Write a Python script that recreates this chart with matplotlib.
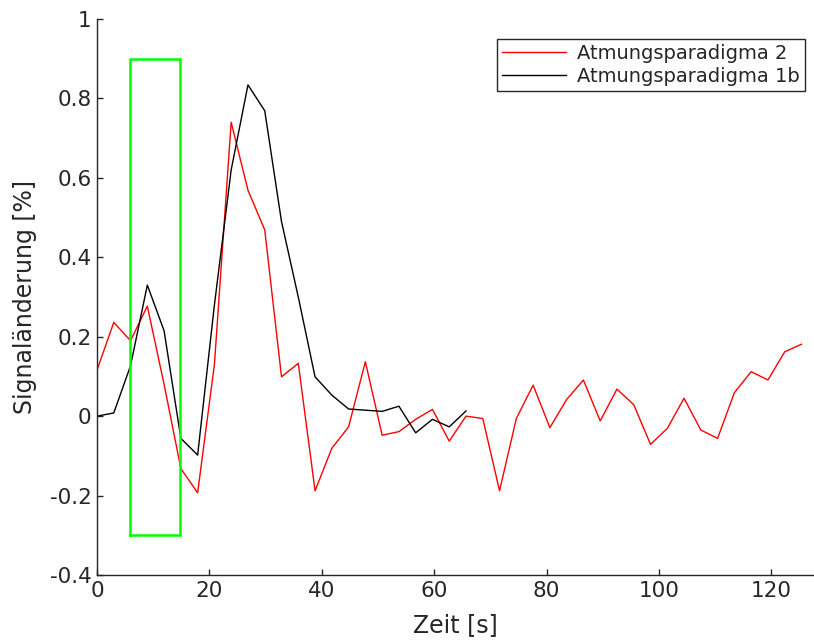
import numpy as np
import matplotlib
matplotlib.use("Agg")
import matplotlib.pyplot as plt

plt.rcParams['font.family'] = ['DejaVu Sans']
plt.rcParams['axes.unicode_minus'] = False

# sampling interval (s)
dt = 2.985

sig_p2 = [0.116, 0.236, 0.19, 0.277, 0.08, -0.132, -0.193, 0.13, 0.74, 0.569,
          0.469, 0.099, 0.133, -0.188, -0.081, -0.027, 0.137, -0.048, -0.039, -0.008,
          0.017, -0.063, 0.0, -0.006, -0.188, -0.006, 0.078, -0.029, 0.042, 0.091,
          -0.012, 0.068, 0.029, -0.071, -0.031, 0.045, -0.035, -0.056, 0.059, 0.112,
          0.091, 0.162, 0.181]
sig_p1b = [0.0, 0.008, 0.127, 0.33, 0.215, -0.056, -0.098, 0.28, 0.62, 0.834,
           0.769, 0.49, 0.30, 0.099, 0.053, 0.018, 0.015, 0.012, 0.025, -0.042,
           -0.008, -0.027, 0.013]
t_p2 = np.arange(len(sig_p2)) * dt
t_p1b = np.arange(len(sig_p1b)) * dt

# marked breathing window
box_x = [5.9, 14.7]
box_y = [-0.3, 0.9]

yticks = [-0.4, -0.2, 0, 0.2, 0.4, 0.6, 0.8, 1]
ytick_labels = ['-0.4', '-0.2', '0', '0.2', '0.4', '0.6', '0.8', '1']
xticks = [0, 20, 40, 60, 80, 100, 120]

fig = plt.figure(figsize=(8.14, 6.42), dpi=100)
ax = fig.add_axes([97/814, 1 - 575/642, 1 - 97/814, (575 - 19)/642])

ax.plot(t_p2, sig_p2, color='#ff0000', lw=1.0, label='Atmungsparadigma 2')
ax.plot(t_p1b, sig_p1b, color='#000000', lw=1.0, label='Atmungsparadigma 1b')
ax.plot([box_x[0], box_x[1], box_x[1], box_x[0], box_x[0]],
        [box_y[0], box_y[0], box_y[1], box_y[1], box_y[0]],
        color='#00ff00', lw=1.8, solid_joinstyle='miter')

ax.set_xlim(0, 127.6)
ax.set_ylim(-0.4, 1)
ax.set_xticks(xticks)
ax.set_xticklabels([str(v) for v in xticks])
ax.set_yticks(yticks)
ax.set_yticklabels(ytick_labels)

ax.spines['top'].set_visible(False)
ax.spines['right'].set_visible(False)
for s in ['left', 'bottom']:
    ax.spines[s].set_color('#262626')
    ax.spines[s].set_linewidth(1.0)
ax.tick_params(direction='in', length=4, width=1.0, color='#262626',
               labelcolor='#262626', labelsize=15.5, pad=4)

ax.set_xlabel('Zeit [s]', fontsize=17, color='#262626', labelpad=9)
ax.set_ylabel('Signaländerung [%]', fontsize=17, color='#262626', labelpad=9)

leg = ax.legend(loc='upper right', bbox_to_anchor=(805/814, 1 - 39/642),
                bbox_transform=fig.transFigure, borderaxespad=0,
                fontsize=14, fancybox=False, framealpha=1, edgecolor='#262626',
                handlelength=3.3, labelspacing=0.2, borderpad=0.25,
                handletextpad=0.6)
leg.get_frame().set_linewidth(1.0)
for txt in leg.get_texts():
    txt.set_color('#262626')

fig.savefig('out.png', dpi=100)
